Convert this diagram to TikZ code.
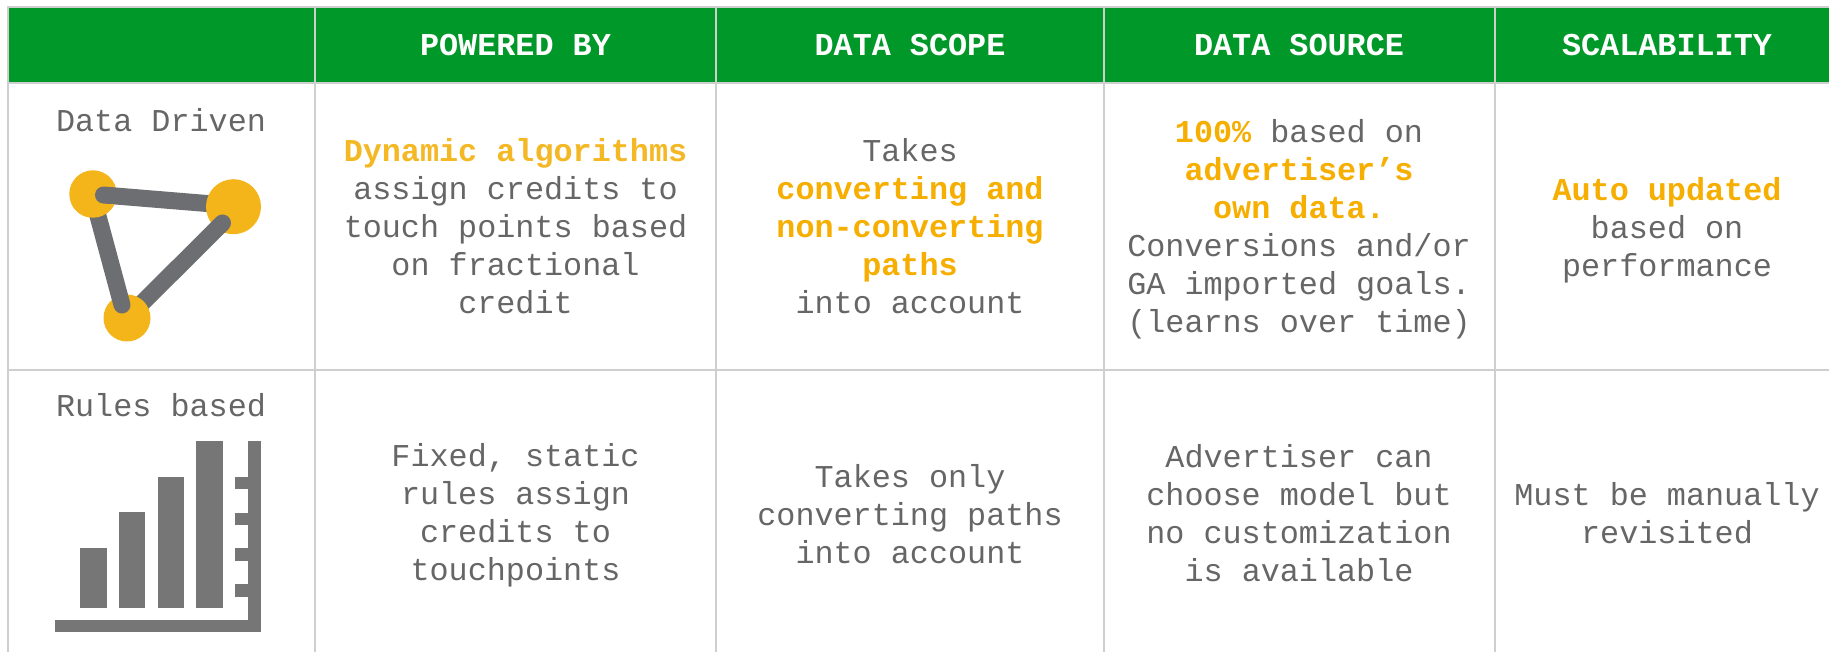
\documentclass[tikz,border=0pt]{standalone}
\usepackage{fontspec}
\setmainfont{Liberation Mono}
\definecolor{hdr}{HTML}{009929}
\definecolor{gridc}{HTML}{CFCFCF}
\definecolor{txt}{HTML}{666666}
\definecolor{hi}{HTML}{F6AE00}
\definecolor{hib}{HTML}{F4B824}
\definecolor{dot}{HTML}{F4B51A}
\definecolor{lnk}{HTML}{6D6E71}
\definecolor{bar}{HTML}{767676}
\newcommand{\hl}[1]{\textcolor{hi}{\textbf{#1}}}
\tikzset{
  x=1pt,y=-1pt,
  cell/.style={align=center,inner sep=0pt,text=txt,font=\fontsize{31.8}{38}\selectfont},
  head/.style={inner sep=0pt,text=white,font=\fontsize{31.8}{38}\selectfont\bfseries},
  gridline/.style={draw=gridc,line width=2pt},
  link/.style={draw=lnk,line width=17pt,line cap=round},
  barfill/.style={fill=bar}
}
\begin{document}
\begin{tikzpicture}
\useasboundingbox[fill=white] (0,0) rectangle (1829,652);
% header band
\fill[hdr] (7.5,7) rectangle (1829,83);
% grid
\draw[gridline] (1829,7) -- (7.5,7) -- (7.5,652);
\draw[gridline] (7.5,83) -- (1829,83);
\draw[gridline] (7.5,370) -- (1829,370);
\foreach \gx in {315,716,1104,1495}{\draw[gridline] (\gx,7) -- (\gx,652);}
% header
\node[head] (h1) at (515.5,45.5) {POWERED BY};
\node[head] (h2) at (910,45.5) {DATA SCOPE};
\node[head] (h3) at (1299,45.5) {DATA SOURCE};
\node[head] (h4) at (1667,45.5) {SCALABILITY};
% row labels
\node[cell] (r1) at (161,120) {Data Driven};
\node[cell] (r2) at (161,405) {Rules based};
% row 1
\node[cell] (c11) at (515.5,226.5) {\textcolor{hib}{\textbf{Dynamic algorithms}}\\assign credits to\\touch points based\\on fractional\\credit};
\node[cell] (c12) at (910,226.5) {Takes\\\hl{converting and}\\\hl{non-converting}\\\hl{paths}\\into account};
\node[cell] (c13) at (1299,229) {\hl{100\%} based on\\\hl{advertiser’s}\\\hl{own data.}\\Conversions and/or\\GA imported goals.\\(learns over time)};
\node[cell] (c14) at (1667,229.8) {\hl{Auto updated}\\based on\\performance};
% row 2
\node[cell] (c21) at (515.5,515) {Fixed, static\\rules assign\\credits to\\touchpoints};
\node[cell] (c22) at (910,514) {Takes only\\converting paths\\into account};
\node[cell] (c23) at (1299,513) {Advertiser can\\choose model but\\no customization\\is available};
\node[cell] (c24) at (1667,513) {Must be manually\\revisited};
% network icon
\fill[dot] (93,194) circle (23.7);
\draw[link] (103.5,195) -- (225,205);
\fill[dot] (233.5,206.7) circle (27.5);
\draw[link] (222.5,223) -- (127,318);
\fill[dot] (127,318) circle (23.5);
\draw[link] (122,305) -- (98,216);
\begin{scope}
\clip (60,205) rectangle (125,222);
\fill[dot] (93,194) circle (23.7);
\end{scope}
% bar icon
\fill[barfill] (80.3,548.3) rectangle (106.7,608.3);
\fill[barfill] (119,512.3) rectangle (145.3,608.3);
\fill[barfill] (158,476.7) rectangle (184,608.3);
\fill[barfill] (196.3,441) rectangle (222.7,608.3);
\fill[barfill] (55,620) rectangle (261,632);
\fill[barfill] (248,441) rectangle (261,632);
\foreach \ty in {476.7,512.7,548.3,584}{\fill[barfill] (235,\ty) rectangle (248,\ty+12.5);}
\end{tikzpicture}
\end{document}
